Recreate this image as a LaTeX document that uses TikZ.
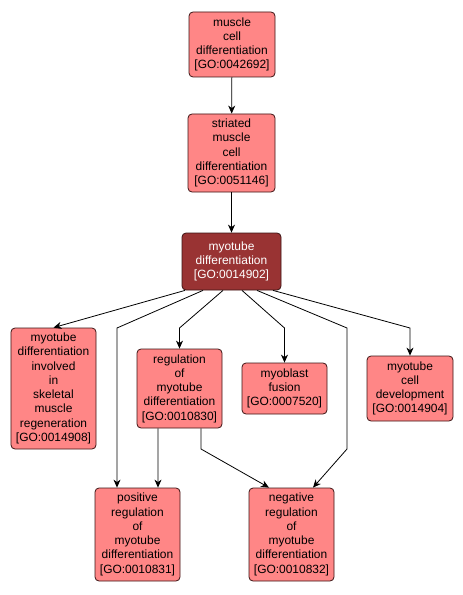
\documentclass[tikz,border=0pt]{standalone}
\usepackage{fontspec}
\setmainfont{Liberation Sans}
\usetikzlibrary{arrows.meta}
\definecolor{termfill}{RGB}{255,134,134}
\definecolor{termdark}{RGB}{153,51,51}
\definecolor{termline}{RGB}{60,20,20}
\begin{document}
\begin{tikzpicture}[x=1bp, y=-1bp, >={Stealth[length=8bp, width=7bp, inset=2.5bp]}, font=\fontsize{12}{14.3}\selectfont]
	\tikzset{
		term/.style 2 args={draw=termline, fill=termfill, line width=0.8bp, rounded corners=4bp,
			align=center, inner sep=0pt, minimum width=#1bp, minimum height=#2bp},
		focus/.style={fill=termdark, text=white},
		link/.style={->, line width=0.8bp}
	}
	\useasboundingbox (0,0) rectangle (463,595);
	% terms
	\node[term={86}{65}] (muscle) at (232,44.5) {muscle\\cell\\differentiation\\{[GO:0042692]}};
	\node[term={87}{78}] (striated) at (231.5,153) {striated\\muscle\\cell\\differentiation\\{[GO:0051146]}};
	\node[term={99}{57}, focus] (myotube) at (231.5,261.5) {myotube\\differentiation\\{[GO:0014902]}};
	\node[term={85}{121}] (regen) at (53.5,388.5) {myotube\\differentiation\\involved\\in\\skeletal\\muscle\\regeneration\\{[GO:0014908]}};
	\node[term={85}{79}] (reg) at (179.5,388.5) {regulation\\of\\myotube\\differentiation\\{[GO:0010830]}};
	\node[term={85}{51}] (fusion) at (284.5,388.5) {myoblast\\fusion\\{[GO:0007520]}};
	\node[term={86}{65}] (devel) at (410,388.5) {myotube\\cell\\development\\{[GO:0014904]}};
	\node[term={85}{93}] (posreg) at (137.5,534.5) {positive\\regulation\\of\\myotube\\differentiation\\{[GO:0010831]}};
	\node[term={85}{93}] (negreg) at (291.5,534.5) {negative\\regulation\\of\\myotube\\differentiation\\{[GO:0010832]}};
	% bends
	\coordinate (bpos) at (117,328);
	\coordinate (breg) at (179.5,328);
	\coordinate (bfus) at (284.5,328);
	\coordinate (bneg) at (347,328);
	\coordinate (bneg2) at (347,449);
	\coordinate (bdev) at (410,328);
	\coordinate (breg2) at (201,449);
	% links
	\draw[link] (muscle) -- (striated);
	\draw[link] (striated) -- (myotube);
	\draw[link] ([xshift=-46.5bp]myotube.south) -- (regen.north);
	\draw[link] ([xshift=-28.5bp]myotube.south) -- (bpos) -- (bpos |- posreg.north);
	\draw[link] ([xshift=-8.5bp]myotube.south) -- (breg) -- (reg.north);
	\draw[link] ([xshift=10.5bp]myotube.south) -- (bfus) -- (fusion.north);
	\draw[link] ([xshift=25.5bp]myotube.south) -- (bneg) -- (bneg2) -- ([xshift=21.5bp]negreg.north);
	\draw[link] ([xshift=41.5bp]myotube.south) -- (bdev) -- (devel.north);
	\draw[link] ([xshift=-21.5bp]reg.south) -- ([xshift=20.5bp]posreg.north);
	\draw[link] (breg2 |- reg.south) -- (breg2) -- ([xshift=-22.5bp]negreg.north);
\end{tikzpicture}
\end{document}
